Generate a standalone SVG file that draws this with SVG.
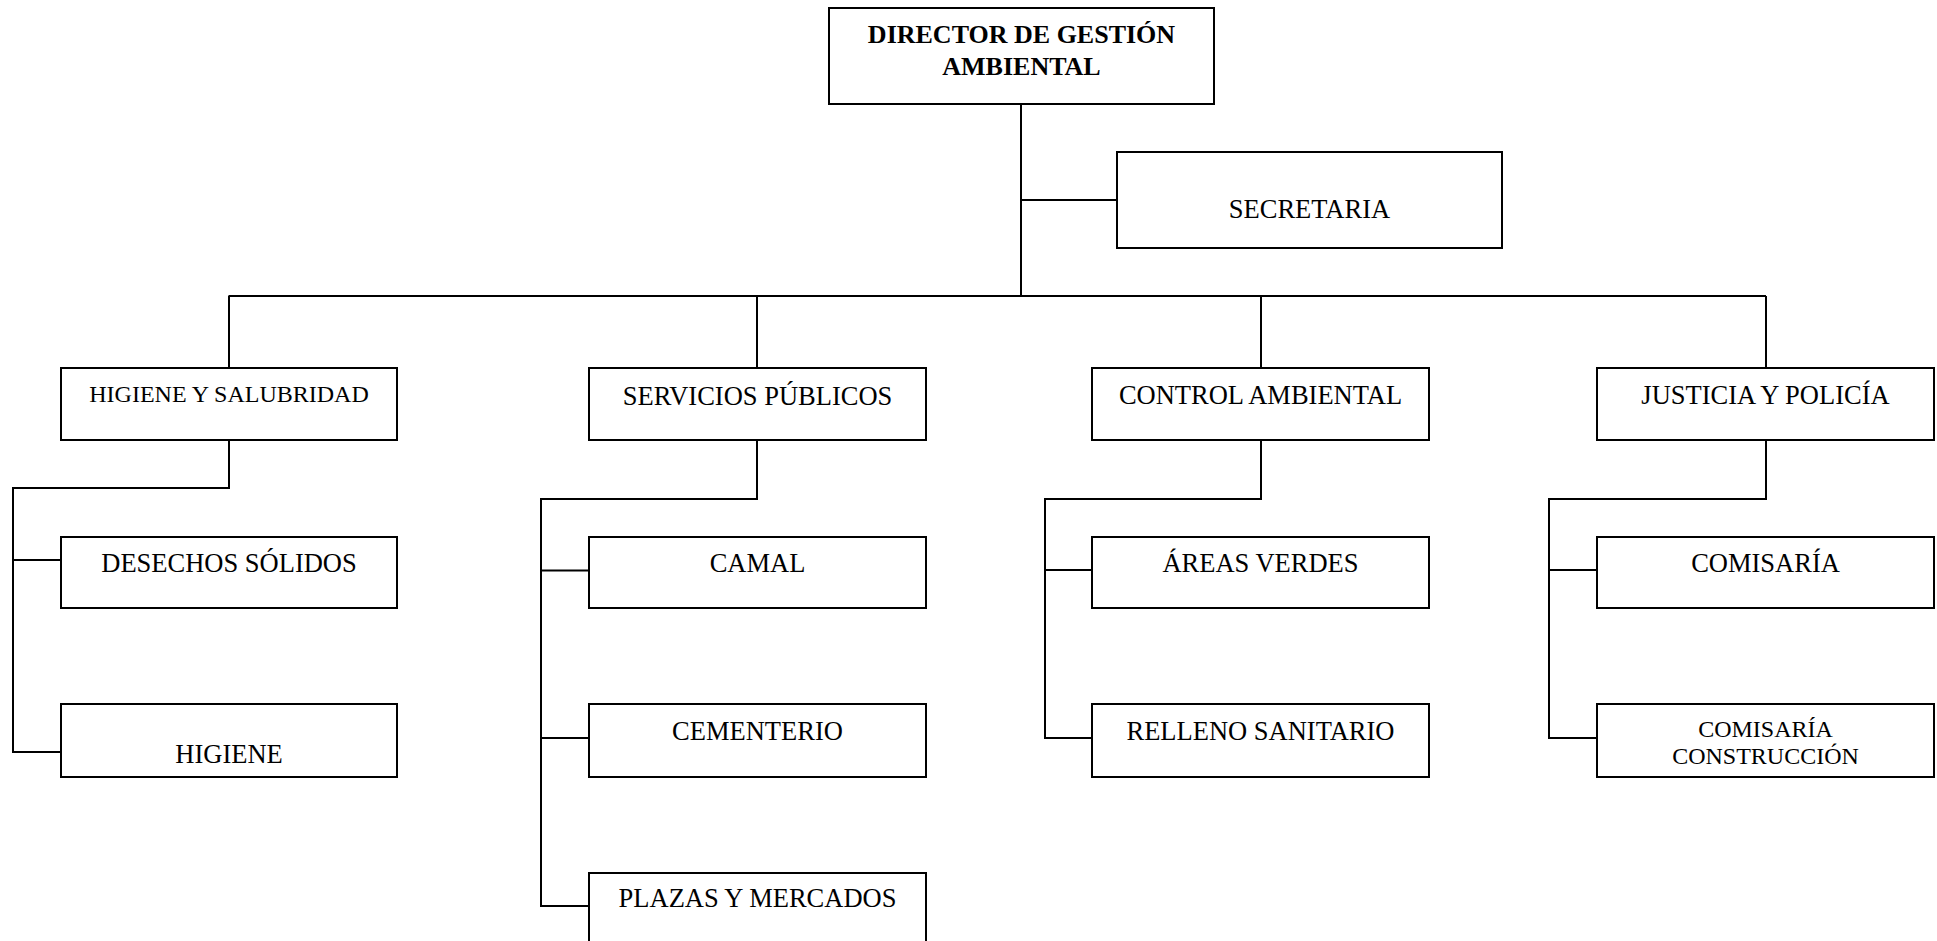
<svg xmlns="http://www.w3.org/2000/svg" width="1937" height="941" viewBox="0 0 1937 941">
<style>
.box{fill:#fff;stroke:#000;stroke-width:2}
.t{font-family:"Liberation Serif","Times New Roman",serif;font-size:26.5px;fill:#000;text-anchor:middle}
.s{font-size:24px}
.b{font-weight:bold;font-size:26px}
.c{fill:none;stroke:#000;stroke-width:2}
</style>
<rect width="1937" height="941" fill="#fff"/>
<g id="connectors">
<path class="c" d="M1021,104 V296 M1021,200 H1117 M228.5,296 H1766 M229,296 V368 M757,296 V368 M1261,296 V368 M1766,296 V368"/>
<path class="c" d="M229,440 V488 H13 V752 H61 M13,560 H61"/>
<path class="c" d="M757,440 V499 H541 V906 H589 M541,570.5 H589 M541,738 H589"/>
<path class="c" d="M1261,440 V499 H1045 V738 H1092 M1045,570 H1092"/>
<path class="c" d="M1766,440 V499 H1549 V738 H1597 M1549,570 H1597"/>
</g>
<g id="director"><rect class="box" x="829" y="8" width="385" height="96"/><text class="t b" x="1021.5" y="43">DIRECTOR DE GESTIÓN</text><text class="t b" x="1021.5" y="75">AMBIENTAL</text></g>
<g id="secretaria"><rect class="box" x="1117" y="152" width="385" height="96"/><text class="t" x="1309.5" y="218">SECRETARIA</text></g>
<g id="higiene-salubridad"><rect class="box" x="61" y="368" width="336" height="72"/><text class="t s" x="229" y="402">HIGIENE Y SALUBRIDAD</text></g>
<g id="servicios"><rect class="box" x="589" y="368" width="337" height="72"/><text class="t" x="757.5" y="405">SERVICIOS PÚBLICOS</text></g>
<g id="control"><rect class="box" x="1092" y="368" width="337" height="72"/><text class="t" x="1260.5" y="404">CONTROL AMBIENTAL</text></g>
<g id="justicia"><rect class="box" x="1597" y="368" width="337" height="72"/><text class="t" x="1765.5" y="404">JUSTICIA Y POLICÍA</text></g>
<g id="desechos"><rect class="box" x="61" y="537" width="336" height="71"/><text class="t" x="229" y="572">DESECHOS SÓLIDOS</text></g>
<g id="higiene"><rect class="box" x="61" y="704" width="336" height="73"/><text class="t" x="229" y="763">HIGIENE</text></g>
<g id="camal"><rect class="box" x="589" y="537" width="337" height="71"/><text class="t" x="757.5" y="572">CAMAL</text></g>
<g id="cementerio"><rect class="box" x="589" y="704" width="337" height="73"/><text class="t" x="757.5" y="740">CEMENTERIO</text></g>
<g id="plazas"><rect class="box" x="589" y="873" width="337" height="73"/><text class="t" x="757.5" y="907">PLAZAS Y MERCADOS</text></g>
<g id="areas"><rect class="box" x="1092" y="537" width="337" height="71"/><text class="t" x="1260.5" y="572">ÁREAS VERDES</text></g>
<g id="relleno"><rect class="box" x="1092" y="704" width="337" height="73"/><text class="t" x="1260.5" y="740">RELLENO SANITARIO</text></g>
<g id="comisaria"><rect class="box" x="1597" y="537" width="337" height="71"/><text class="t" x="1765.5" y="572">COMISARÍA</text></g>
<g id="comisaria-construccion"><rect class="box" x="1597" y="704" width="337" height="73"/><text class="t s" x="1765.5" y="737">COMISARÍA</text><text class="t s" x="1765.5" y="764">CONSTRUCCIÓN</text></g>
</svg>
